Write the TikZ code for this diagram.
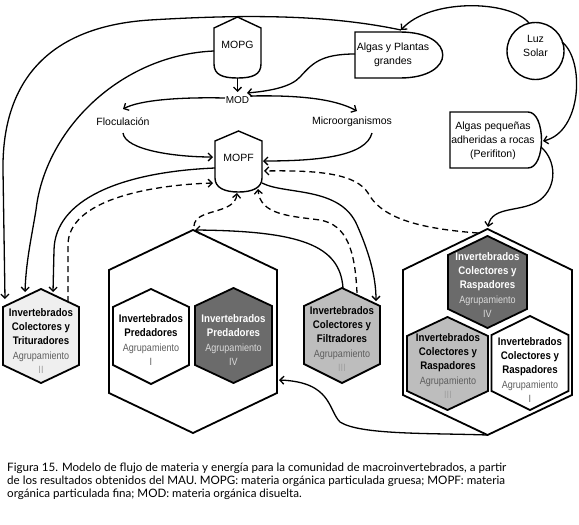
\documentclass[tikz,border=0pt]{standalone}
\usepackage{fontspec}
\setmainfont{Liberation Sans}
\newfontfamily\capfont{Lato}
\newfontfamily\narrowfont[FakeStretch=0.88]{Liberation Sans}
\newfontfamily\narrowfontB[FakeStretch=0.86]{Liberation Sans}
\usetikzlibrary{arrows.meta}
\definecolor{agr}{HTML}{5E5E5E}
\definecolor{numlt}{HTML}{A0A0A0}
\definecolor{fillA}{HTML}{EFEFEF}
\definecolor{fillB}{HTML}{BDBDBD}
\definecolor{fillC}{HTML}{6B6B6B}
\definecolor{agrlt}{HTML}{DADADA}
\newcommand{\hexagonpath}[6]{(#1,#3) -- ({#1+#2},#4) -- ({#1+#2},#5) -- (#1,#6) -- ({#1-#2},#5) -- ({#1-#2},#4) -- cycle}
\newcommand{\agrtxt}[1]{{\narrowfontB\fontsize{10.5}{14.3}\selectfont #1}}
\begin{document}
\begin{tikzpicture}[x=1pt,y=-1pt,
  conn/.style={line width=1.3pt,-{Straight Barb[length=4pt,width=8pt]}},
  dconn/.style={conn,dash pattern=on 6pt off 4pt},
  shapeline/.style={draw=black,line width=1.4pt},
  hexline/.style={draw=black,line width=1.8pt,line join=miter},
  lbl/.style={font=\fontsize{10.5}{14}\selectfont,inner sep=0pt,align=center},
  hexlbl/.style={font=\narrowfont\fontsize{11}{14.3}\selectfont,inner sep=0pt,align=center},
  caplbl/.style={font=\capfont\fontsize{11.6}{13.3}\selectfont,inner sep=0pt,anchor=base west}]
\useasboundingbox (0,0) rectangle (579,525);
\fill[white] (0,0) rectangle (579,525);

% ---------- top shapes ----------
\draw[shapeline] (214,28) -- (237.5,17) -- (261,28) -- (261,64) .. controls (261,75) and (252,78) .. (237.5,78) .. controls (223,78) and (214,75) .. (214,64) -- cycle;
\node[lbl] (mopg) at (237.5,45) {MOPG};
\coordinate (mopg-b) at (237.5,78);
\coordinate (mopg-l) at (214,51);

\draw[shapeline] (355,32) -- (400,32) .. controls (457,32) and (457,78) .. (400,78) -- (355,78) -- cycle;
\node[lbl] (algas) at (393,55) {Algas y Plantas\\grandes};
\coordinate (algas-l) at (355,54);
\coordinate (algas-t) at (401,30);

\draw[shapeline] (535.5,51) circle (28.5);
\node[lbl] (luz) at (535.5,46) {Luz\\Solar};
\coordinate (luz-t) at (529,23);
\coordinate (luz-r) at (562,42);

\draw[shapeline] (450,112) -- (528,112) .. controls (546,112) and (546,168) .. (528,168) -- (450,168) -- cycle;
\node[lbl] (peri) at (493,141) {Algas pequeñas\\adheridas a rocas\\(Perifiton)};
\coordinate (peri-r) at (543,141);
\coordinate (peri-rb) at (541,147);

\node[lbl,font=\fontsize{10}{12}\selectfont] (mod) at (237.5,100) {MOD};
\coordinate (mod-t) at (237.5,92);
\coordinate (mod-r) at (250,96);
\coordinate (mod-l) at (225,98);
\coordinate (mod-rr) at (247,93);

\node[lbl] (floc) at (123,122) {Floculación};
\coordinate (floc-t) at (123,109);
\coordinate (floc-b) at (123,133);
\node[lbl] (micro) at (352,122) {Microorganismos};
\coordinate (micro-t) at (357,111);
\coordinate (micro-b) at (372,133);

\draw[shapeline] (215,141) -- (238.5,131) -- (262,141) -- (262,178) .. controls (262,188) and (252,192) .. (238.5,192) .. controls (225,192) and (215,188) .. (215,178) -- cycle;
\node[lbl] (mopf) at (238.5,158) {MOPF};
\coordinate (mopf-l1) at (213,157);
\coordinate (mopf-l2) at (215,168);
\coordinate (mopf-l3) at (213,183);
\coordinate (mopf-r1) at (263,161);
\coordinate (mopf-r2) at (264,171);
\coordinate (mopf-r3) at (262,183);
\coordinate (mopf-b1) at (237,193);
\coordinate (mopf-b2) at (258,189);

% ---------- hexagons ----------
\draw[hexline,fill=fillA] \hexagonpath{41}{38}{289}{307}{365}{383};
\node[hexlbl] (trit) at (41,341) {\textbf{Invertebrados}\\\textbf{Colectores y}\\\textbf{Trituradores}\\\agrtxt{\color{agr}Agrupamiento}\\\agrtxt{\color{numlt}II}};
\coordinate (trit-t1) at (5,299);
\coordinate (trit-t2) at (25,292);
\coordinate (trit-t3) at (53,292);
\coordinate (trit-t4) at (68,302);

\draw[hexline] \hexagonpath{193}{84}{230}{270}{393}{433};
\coordinate (pred-t) at (195,230);
\coordinate (pred-td) at (194,226);
\coordinate (pred-r) at (279,380);
\draw[hexline] \hexagonpath{151}{38}{289}{307}{365}{384};
\node[hexlbl] (predI) at (151,340) {\textbf{Invertebrados}\\\textbf{Predadores}\\\agrtxt{\color{agr}Agrupamiento}\\\agrtxt{\color{agr}I}};
\draw[hexline,fill=fillC] \hexagonpath{233.5}{38.5}{288}{306}{365}{383};
\node[hexlbl,text=white] (predIV) at (233.5,340) {\textbf{Invertebrados}\\\textbf{Predadores}\\\agrtxt{\color{agrlt}Agrupamiento}\\\agrtxt{\color{agrlt}IV}};

\draw[hexline,fill=fillB] \hexagonpath{342}{38}{288}{306}{364}{383};
\node[hexlbl] (filt) at (342,339) {\textbf{Invertebrados}\\\textbf{Colectores y}\\\textbf{Filtradores}\\\agrtxt{\color{agr}Agrupamiento}\\\agrtxt{\color{numlt}III}};
\coordinate (filt-t) at (343,288);
\coordinate (filt-td) at (357,293);
\coordinate (filt-r) at (376,301);

\draw[hexline] \hexagonpath{487.5}{84.5}{229}{270}{395}{435};
\coordinate (rasp-t) at (488,227);
\coordinate (rasp-td) at (478,233);
\coordinate (rasp-b) at (487,435);
\draw[hexline,fill=fillC] \hexagonpath{487.5}{39.5}{236}{255}{309}{328};
\node[hexlbl,text=white] (raspIV) at (487.5,285) {\textbf{Invertebrados}\\\textbf{Colectores y}\\\textbf{Raspadores}\\\agrtxt{\color{agrlt}Agrupamiento}\\\agrtxt{\color{agrlt}IV}};
\draw[hexline,fill=fillB] \hexagonpath{447.5}{40.5}{317}{336}{391}{410};
\node[hexlbl] (raspIII) at (448,366) {\textbf{Invertebrados}\\\textbf{Colectores y}\\\textbf{Raspadores}\\\agrtxt{\color{agr}Agrupamiento}\\\agrtxt{\color{numlt}III}};
\draw[hexline] \hexagonpath{530}{38.5}{316}{335}{391}{410};
\node[hexlbl] (raspI) at (530,370) {\textbf{Invertebrados}\\\textbf{Colectores y}\\\textbf{Raspadores}\\\agrtxt{\color{agr}Agrupamiento}\\\agrtxt{\color{agr}I}};

% ---------- connectors ----------
\draw[conn] (luz-t) .. controls (510,0) and (430,-2) .. (algas-t);
\draw[conn] (luz-r) .. controls (585,60) and (582,132) .. (peri-r);
\draw[conn] (peri-rb) .. controls (556,160) and (558,186) .. (540,200) .. controls (522,213) and (492,205) .. (rasp-t);
\draw[dconn] (rasp-td) .. controls (410,228) and (380,215) .. (368,193) .. controls (356,174) and (320,170) .. (mopf-r2);
\draw[conn] (micro-b) .. controls (366,156) and (320,161) .. (mopf-r1);
\draw[conn] (mod-r) .. controls (300,95) and (335,99) .. (micro-t);
\draw[conn] (mod-l) .. controls (180,97) and (140,100) .. (floc-t);
\draw[conn] (floc-b) .. controls (125,150) and (175,157) .. (mopf-l1);
\draw[conn] (algas-l) .. controls (320,54) and (312,64) .. (300,77) .. controls (291,87) and (270,91) .. (mod-rr);
\draw[conn] (mopg-b) -- (mod-t);
\draw[conn] (algas-t) .. controls (330,15) and (250,14) .. (150,20) .. controls (40,27) and (2,90) .. (3,170) -- (trit-t1);
\draw[conn] (mopg-l) .. controls (120,55) and (45,130) .. (36,210) .. controls (31,240) and (26,262) .. (trit-t2);
\draw[conn] (mopf-l2) .. controls (120,172) and (55,200) .. (54,250) -- (trit-t3);
\draw[dconn] (trit-t4) -- (68,245) .. controls (68,200) and (150,185) .. (mopf-l3);
\draw[dconn] (pred-td) .. controls (195,208) and (235,215) .. (mopf-b1);
\draw[conn] (filt-t) .. controls (340,245) and (300,231) .. (pred-t);
\draw[conn] (mopf-r3) .. controls (285,195) and (340,186) .. (357,225) .. controls (368,250) and (376,275) .. (filt-r);
\draw[dconn] (filt-td) .. controls (355,250) and (347,225) .. (320,220) .. controls (290,216) and (260,215) .. (mopf-b2);
\draw[conn] (rasp-b) .. controls (430,433) and (360,435) .. (340,422) .. controls (328,410) and (332,382) .. (pred-r);

% ---------- caption ----------
\node[caplbl] (cap1) at (7,471) {Figura 15. Modelo de flujo de materia y energía para la comunidad de macroinvertebrados, a partir};
\node[caplbl] (cap2) at (7,484.3) {de los resultados obtenidos del MAU. MOPG: materia orgánica particulada gruesa; MOPF: materia};
\node[caplbl] (cap3) at (7,497.6) {orgánica particulada fina; MOD: materia orgánica disuelta.};
\end{tikzpicture}
\end{document}
